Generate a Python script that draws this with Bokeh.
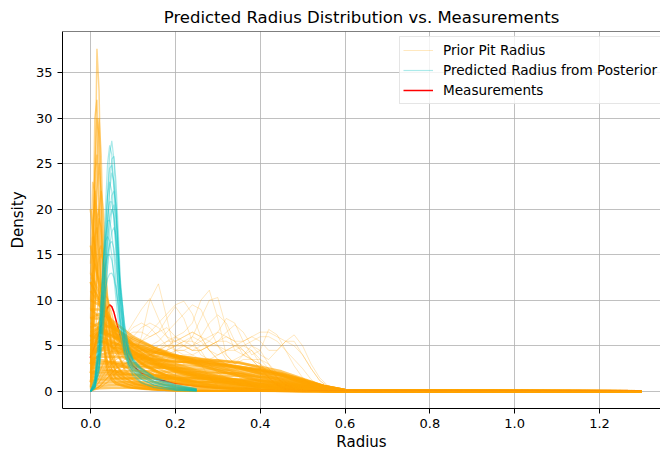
from bokeh.plotting import figure
from bokeh.models import Range1d, FixedTicker, Span, Legend, LegendItem
from bokeh.embed import file_html
from bokeh.resources import INLINE

TITLE = "Predicted Radius Distribution vs. Measurements"
X_LABEL = "Radius"
Y_LABEL = "Density"
X_TICKS = [0.0, 0.2, 0.4, 0.6, 0.8, 1.0, 1.2]
X_TICK_LABELS = ["0.0", "0.2", "0.4", "0.6", "0.8", "1.0", "1.2"]
Y_TICKS = [0, 5, 10, 15, 20, 25, 30, 35]
Y_TICK_LABELS = ["0", "5", "10", "15", "20", "25", "30", "35"]

# ---------------- prior curves: sharp peaks near zero ----------------
GRID_PEAKED = [0, 0.005, 0.01, 0.015, 0.02, 0.025, 0.03, 0.035, 0.04, 0.05, 0.06,
               0.08, 0.1, 0.13, 0.16, 0.2, 0.25, 0.3, 0.4, 0.5, 0.6, 1.3]
PRIOR_PEAKED = [
    [1.0, 6.0, 20.0, 37.6, 33.0, 20.0, 9.0, 4.0, 2.2, 1.2, 0.8, 0.5, 0.35, 0.2, 0.12, 0.06, 0.03, 0.01, 0, 0, 0, 0],
    [3, 14, 30, 32, 22, 12, 6, 3, 2, 1.2, 0.8, 0.5, 0.35, 0.22, 0.14, 0.08, 0.04, 0.02, 0, 0, 0, 0],
    [1, 5, 14, 25, 30, 26, 17, 9, 5, 2.2, 1.3, 0.7, 0.45, 0.25, 0.15, 0.08, 0.04, 0.02, 0, 0, 0, 0],
    [2, 10, 24, 30, 28, 19, 10, 5, 3, 1.5, 1.0, 0.6, 0.4, 0.25, 0.15, 0.08, 0.04, 0.02, 0.01, 0, 0, 0],
    [2, 7, 15, 22, 25, 22, 15, 9, 5.5, 2.5, 1.5, 0.9, 0.6, 0.35, 0.2, 0.1, 0.05, 0.02, 0.01, 0, 0, 0],
    [1, 4, 9, 15, 20, 22, 20, 15, 10, 4, 2, 1, 0.6, 0.35, 0.2, 0.1, 0.05, 0.02, 0, 0, 0, 0],
    [8, 17, 21, 19, 14, 9, 6, 4, 3, 2, 1.4, 0.9, 0.6, 0.4, 0.25, 0.15, 0.08, 0.04, 0.01, 0, 0, 0],
    [4, 9, 15, 19, 20, 17, 12, 8, 5.5, 3, 2, 1.2, 0.8, 0.5, 0.3, 0.18, 0.1, 0.05, 0.01, 0, 0, 0],
    [6, 12, 17, 18, 15, 11, 8, 6, 4.5, 3, 2.2, 1.5, 1.0, 0.6, 0.4, 0.25, 0.12, 0.06, 0.02, 0, 0, 0],
    [2, 5, 9, 13, 15.5, 16, 14, 11, 8.5, 5, 3, 1.6, 1.0, 0.6, 0.35, 0.2, 0.1, 0.05, 0.01, 0, 0, 0],
    [9, 13, 14, 13, 11, 9, 7.5, 6, 5, 3.6, 2.8, 1.8, 1.2, 0.7, 0.45, 0.25, 0.12, 0.06, 0.02, 0, 0, 0],
    [1.5, 3.5, 6, 8.5, 10.5, 11.7, 12, 11.3, 10, 7, 4.8, 2.5, 1.5, 0.8, 0.5, 0.25, 0.12, 0.05, 0.01, 0, 0, 0],
    [0.5, 1.5, 3, 5, 7, 8.8, 10, 10.5, 10.2, 8.5, 6.5, 4, 2.6, 1.5, 0.9, 0.5, 0.25, 0.1, 0.02, 0, 0, 0],
    [14, 23, 22, 16, 10, 7, 5, 4, 3.3, 2.4, 1.8, 1.2, 0.8, 0.5, 0.3, 0.15, 0.07, 0.03, 0.01, 0, 0, 0],
    [10, 18, 22, 20, 16, 12, 9, 6.5, 5, 3.2, 2.3, 1.4, 0.9, 0.55, 0.35, 0.2, 0.1, 0.05, 0.01, 0, 0, 0],
    [3, 8, 13, 17, 19, 18, 14.5, 11, 8, 4.5, 2.8, 1.5, 0.9, 0.5, 0.3, 0.15, 0.08, 0.04, 0.01, 0, 0, 0],
    [13, 17, 16, 13.5, 11, 9, 7.5, 6.2, 5.2, 3.8, 2.9, 1.9, 1.3, 0.8, 0.5, 0.28, 0.14, 0.07, 0.02, 0, 0, 0],
    [3, 6, 9.5, 12.5, 14.5, 15, 14.3, 12.5, 10.5, 7, 4.6, 2.3, 1.3, 0.7, 0.4, 0.2, 0.1, 0.05, 0.01, 0, 0, 0],
    [4, 13, 24, 26, 19, 11, 6, 3.5, 2.4, 1.5, 1.0, 0.6, 0.4, 0.25, 0.15, 0.08, 0.04, 0.02, 0, 0, 0, 0],
    [12.5, 12.3, 11.8, 11, 10, 9, 8, 7.2, 6.4, 5.1, 4.1, 2.8, 2.0, 1.3, 0.9, 0.5, 0.25, 0.12, 0.03, 0, 0, 0],
]

# ---------------- prior curves: decaying from near zero ----------------
PRIOR_DECAY = [
    [13, 12.5, 12, 11.4, 10.8, 10.2, 9.7, 9.2, 8.7, 7.8, 7.0, 5.8, 4.9, 3.9, 3.2, 2.5, 1.8, 1.3, 0.6, 0.2, 0.05, 0],
    [11, 10.7, 10.4, 10, 9.6, 9.2, 8.8, 8.4, 8.0, 7.2, 6.5, 5.4, 4.5, 3.6, 2.9, 2.2, 1.6, 1.1, 0.5, 0.15, 0.03, 0],
    [9, 8.8, 8.6, 8.4, 8.2, 7.9, 7.6, 7.3, 7.0, 6.5, 6.0, 5.1, 4.4, 3.6, 3.0, 2.4, 1.8, 1.3, 0.6, 0.2, 0.04, 0],
    [7.5, 7.4, 7.3, 7.1, 6.9, 6.7, 6.5, 6.3, 6.1, 5.7, 5.3, 4.7, 4.1, 3.4, 2.9, 2.4, 1.9, 1.4, 0.7, 0.25, 0.05, 0],
    [6, 6, 5.9, 5.8, 5.7, 5.6, 5.5, 5.3, 5.2, 4.9, 4.6, 4.1, 3.7, 3.2, 2.8, 2.3, 1.9, 1.5, 0.8, 0.3, 0.06, 0],
    [16, 15, 14, 13, 12, 11, 10.2, 9.4, 8.7, 7.4, 6.3, 4.8, 3.8, 2.8, 2.1, 1.5, 1.0, 0.6, 0.2, 0.05, 0, 0],
    [5, 5.5, 6, 6.3, 6.5, 6.6, 6.6, 6.5, 6.4, 6.1, 5.7, 5.0, 4.3, 3.5, 2.8, 2.1, 1.4, 0.9, 0.3, 0.08, 0.01, 0],
    [3, 4, 5, 5.8, 6.4, 6.8, 7.0, 7.1, 7.1, 6.8, 6.3, 5.3, 4.4, 3.3, 2.5, 1.7, 1.0, 0.55, 0.15, 0.03, 0, 0],
    [0.5, 2, 4, 6, 7.5, 8.3, 8.6, 8.5, 8.2, 7.3, 6.4, 4.9, 3.8, 2.7, 1.9, 1.2, 0.7, 0.35, 0.08, 0.01, 0, 0],
    [1, 2.5, 4.5, 6.5, 7.6, 8.2, 8.4, 8.3, 8.0, 7.4, 6.8, 5.4, 4.3, 3.0, 2.1, 1.3, 0.7, 0.35, 0.07, 0.01, 0, 0],
    [12, 11.5, 11, 10.5, 10, 9.5, 9, 8.5, 8, 7, 6.2, 4.9, 3.9, 2.8, 2.1, 1.4, 0.9, 0.55, 0.2, 0.05, 0.01, 0],
    [20, 18, 16, 14, 12.3, 11, 9.9, 9, 8.2, 6.8, 5.7, 4.2, 3.2, 2.2, 1.6, 1.0, 0.6, 0.35, 0.1, 0.02, 0, 0],
    [4, 4.3, 4.6, 4.8, 5.0, 5.1, 5.2, 5.2, 5.2, 5.0, 4.8, 4.3, 3.9, 3.3, 2.8, 2.2, 1.6, 1.1, 0.45, 0.12, 0.02, 0],
    [2, 3, 4, 4.6, 5, 5.3, 5.5, 5.6, 5.6, 5.4, 5.1, 4.4, 3.7, 2.8, 2.1, 1.4, 0.8, 0.45, 0.1, 0.02, 0, 0],
    [0.3, 1, 2, 3, 3.8, 4.4, 4.8, 5, 5.1, 4.9, 4.5, 3.7, 3.0, 2.2, 1.6, 1.0, 0.55, 0.25, 0.05, 0, 0, 0],
]

# ---------------- prior curves: broad smooth ----------------
GRID_SMOOTH = [0, 0.02, 0.05, 0.1, 0.15, 0.2, 0.25, 0.3, 0.35, 0.4, 0.45, 0.5, 0.55, 0.6, 1.3]
PRIOR_SMOOTH = [
    [6, 6.5, 6, 5.2, 4.5, 3.9, 3.4, 3.0, 2.5, 2.0, 1.4, 0.8, 0.3, 0.08, 0],
    [5, 5.5, 5.3, 4.8, 4.3, 3.8, 3.4, 3.1, 2.7, 2.3, 1.7, 1.0, 0.4, 0.1, 0],
    [4, 4.5, 4.5, 4.2, 3.9, 3.6, 3.3, 3.0, 2.7, 2.4, 1.9, 1.2, 0.5, 0.12, 0],
    [3.5, 3.8, 3.8, 3.7, 3.5, 3.3, 3.1, 2.9, 2.7, 2.4, 2.0, 1.3, 0.6, 0.15, 0],
    [3, 3.2, 3.2, 3.1, 3.0, 2.9, 2.8, 2.7, 2.5, 2.3, 1.9, 1.3, 0.6, 0.15, 0],
    [2.5, 2.7, 2.7, 2.7, 2.6, 2.6, 2.5, 2.4, 2.3, 2.1, 1.8, 1.2, 0.6, 0.15, 0],
    [8, 8, 7, 5.6, 4.6, 3.8, 3.1, 2.5, 1.9, 1.4, 0.9, 0.5, 0.2, 0.05, 0],
    [9, 9, 7.8, 6, 4.8, 3.8, 3.0, 2.3, 1.7, 1.1, 0.7, 0.35, 0.12, 0.03, 0],
    [7, 7.5, 7, 5.8, 4.8, 4.0, 3.3, 2.7, 2.1, 1.6, 1.1, 0.6, 0.25, 0.06, 0],
    [2, 2.2, 2.2, 2.2, 2.2, 2.1, 2.1, 2.0, 2.0, 1.9, 1.6, 1.1, 0.6, 0.15, 0],
    [1.5, 1.7, 1.8, 1.8, 1.8, 1.8, 1.8, 1.7, 1.7, 1.6, 1.4, 1.0, 0.5, 0.12, 0],
    [1, 1.2, 1.3, 1.4, 1.4, 1.4, 1.4, 1.4, 1.3, 1.3, 1.1, 0.8, 0.4, 0.1, 0],
    [10, 9.5, 7.5, 5.2, 3.7, 2.7, 2.0, 1.4, 0.9, 0.55, 0.3, 0.12, 0.04, 0.01, 0],
    [4.5, 5.5, 5.2, 4.0, 3.4, 3.2, 3.3, 3.4, 3.2, 2.6, 1.8, 0.9, 0.3, 0.06, 0],
    [5.5, 6.5, 6.2, 5.0, 4.3, 3.9, 3.6, 3.2, 2.6, 1.9, 1.2, 0.6, 0.2, 0.04, 0],
    [0.8, 0.9, 1.0, 1.0, 1.0, 1.0, 1.0, 1.0, 1.0, 0.95, 0.85, 0.65, 0.35, 0.1, 0],
    [12, 10, 7.5, 4.8, 3.3, 2.4, 1.7, 1.2, 0.8, 0.5, 0.3, 0.15, 0.05, 0.01, 0],
    [3, 4, 4.3, 4.0, 3.6, 3.3, 3.1, 2.9, 2.6, 2.2, 1.7, 1.1, 0.5, 0.12, 0],
    [0.5, 0.6, 0.7, 0.7, 0.7, 0.7, 0.7, 0.7, 0.7, 0.7, 0.62, 0.5, 0.3, 0.08, 0],
    [6.5, 7, 6.5, 5.3, 4.4, 3.6, 2.9, 2.3, 1.7, 1.2, 0.8, 0.4, 0.15, 0.03, 0],
    [2, 2.5, 2.3, 1.8, 1.5, 1.3, 1.1, 1.0, 0.9, 0.8, 0.7, 0.5, 0.25, 0.06, 0],
    [3, 3.5, 3.2, 2.4, 1.8, 1.4, 1.1, 0.8, 0.6, 0.45, 0.3, 0.15, 0.05, 0.01, 0],
    [0.3, 0.35, 0.4, 0.4, 0.4, 0.4, 0.4, 0.4, 0.4, 0.4, 0.38, 0.32, 0.2, 0.05, 0],
    [1.2, 1.4, 1.5, 1.5, 1.5, 1.5, 1.4, 1.3, 1.2, 1.1, 0.9, 0.6, 0.3, 0.07, 0],
    [5, 6, 5.5, 4.3, 3.4, 2.7, 2.1, 1.6, 1.2, 0.85, 0.55, 0.3, 0.1, 0.02, 0],
    [8, 8.5, 7.2, 5.2, 3.9, 3.0, 2.3, 1.7, 1.2, 0.8, 0.5, 0.25, 0.08, 0.02, 0],
    [4, 4.8, 4.8, 4.5, 4.2, 3.9, 3.6, 3.4, 3.1, 2.7, 2.2, 1.4, 0.6, 0.15, 0],
    [2.8, 3, 3, 2.9, 2.7, 2.5, 2.3, 2.1, 1.9, 1.6, 1.3, 0.9, 0.45, 0.1, 0],
    [6, 7, 6.2, 4.4, 3.2, 2.3, 1.6, 1.1, 0.75, 0.5, 0.3, 0.15, 0.05, 0.01, 0],
    [1.8, 2.0, 2.0, 1.9, 1.7, 1.6, 1.5, 1.4, 1.3, 1.2, 1.0, 0.7, 0.35, 0.08, 0],
]

# ---------------- prior curves: bumpy (few-sample KDEs) ----------------
GRID_BUMPY = [0, 0.02, 0.04, 0.06, 0.08, 0.1, 0.12, 0.14, 0.16, 0.18, 0.2, 0.22, 0.24, 0.26,
              0.28, 0.3, 0.32, 0.34, 0.36, 0.38, 0.4, 0.42, 0.44, 0.46, 0.48, 0.5, 0.52,
              0.54, 0.56, 0.6, 1.3]
PRIOR_BUMPY = [
    [0, 0.5, 2, 3, 2.5, 3.5, 6, 10, 11.8, 8, 4, 3, 3.5, 3, 1.5, 0.6, 0.3, 0.2, 0.1, 0, 0, 0, 0, 0, 0, 0, 0, 0, 0, 0, 0],
    [0, 0.3, 1, 2, 3, 3.5, 3, 2.5, 3, 4.5, 6, 6.5, 7.5, 10, 11.1, 8, 4, 3, 4, 4.5, 3, 1.5, 0.6, 0.2, 0.05, 0, 0, 0, 0, 0, 0],
    [0, 0.5, 1.5, 2.5, 3, 3, 2.5, 2, 2.5, 3.5, 4.5, 5, 6, 8, 10, 10.3, 7, 4.5, 4, 5, 4.5, 3, 1.5, 0.6, 0.2, 0.05, 0, 0, 0, 0, 0],
    [0, 1, 3, 4, 4.5, 5, 5.5, 6, 6.5, 8, 9.3, 8, 5.5, 4, 3.5, 3, 2.5, 2, 1.2, 0.6, 0.2, 0.05, 0, 0, 0, 0, 0, 0, 0, 0, 0],
    [0, 2, 4, 5, 6, 7.5, 9, 10.2, 8, 6, 4.5, 4.5, 5, 4.5, 3, 2, 1.5, 1, 0.5, 0.2, 0.05, 0, 0, 0, 0, 0, 0, 0, 0, 0, 0],
    [0, 0.3, 1, 2, 2.5, 3, 3.5, 4, 4.5, 5, 5.5, 6, 6.5, 6, 5.5, 6.5, 8, 7.5, 5.5, 4, 4.5, 6.8, 6.2, 4.5, 2.8, 1.5, 0.6, 0.2, 0.05, 0, 0],
    [0, 0.5, 1.5, 2.5, 3, 3.5, 4, 4, 4.5, 4.5, 5, 5, 4.5, 4.5, 5, 5.5, 6.5, 7.3, 6.5, 5, 4, 3.5, 4.5, 5.5, 6.2, 5, 3, 1.5, 0.6, 0.1, 0],
    [0, 0.5, 1.5, 2.5, 3.5, 4, 4.5, 5, 5.5, 6.5, 7.5, 8.5, 9.5, 9, 7, 5, 3.5, 2.5, 2, 1.5, 1, 0.6, 0.3, 0.1, 0, 0, 0, 0, 0, 0, 0],
    [0, 1, 2.5, 3.5, 4, 4.5, 5.5, 6.5, 7.5, 8.5, 9.5, 9.9, 8.5, 6, 4.5, 4, 4.5, 5, 4.5, 3.5, 2.5, 1.5, 0.8, 0.3, 0.1, 0, 0, 0, 0, 0, 0],
    [0, 0.5, 1.5, 2, 2.5, 3, 3.5, 4, 4.5, 5, 5, 5.5, 5.5, 5, 5, 5.5, 5.5, 5, 5.5, 6, 5.5, 4.5, 4.5, 5.5, 5.5, 4, 2.5, 1.2, 0.5, 0.05, 0],
    [0, 1, 2, 3, 3.5, 3.5, 3, 3.5, 4.5, 5.5, 6, 5.5, 5, 6, 7.5, 8.4, 7.5, 5.5, 4, 3.5, 3.5, 3, 2, 1, 0.4, 0.1, 0, 0, 0, 0, 0],
    [0, 2, 4, 5, 6, 6.5, 6.5, 6, 6.5, 7, 6, 5, 4.5, 5, 5.5, 5, 4, 3, 2.5, 2.5, 2, 1.2, 0.6, 0.2, 0.05, 0, 0, 0, 0, 0, 0],
    [0, 1.5, 3, 4, 5, 6, 7, 7.5, 7, 6, 5.5, 6, 6.5, 6, 4.5, 3.5, 3, 3.5, 4, 3.5, 2.5, 1.5, 0.7, 0.3, 0.1, 0, 0, 0, 0, 0, 0],
    [0, 0.5, 1, 1.5, 2, 2.5, 3, 3.5, 4, 4.5, 5, 5, 5, 5.5, 6, 6.5, 6, 5.5, 5.5, 6, 6.5, 6.5, 6, 5.5, 5, 4, 2.5, 1.2, 0.5, 0.05, 0],
    [0, 1, 2.5, 3.5, 4, 4.5, 4.5, 4.5, 5, 5.5, 5.5, 5, 4.5, 4.5, 5, 5.5, 6, 5.5, 4.5, 3.5, 3, 2.5, 1.5, 0.7, 0.3, 0.1, 0, 0, 0, 0, 0],
    [0, 2, 4.5, 6, 6, 5.5, 5, 4.5, 4, 4, 4.5, 4.5, 4, 3.5, 3.5, 4, 4.5, 5, 5, 4.5, 3.5, 2.5, 1.5, 0.7, 0.3, 0.1, 0, 0, 0, 0, 0],
    [0, 0.5, 1.5, 2.5, 3, 3.5, 4, 4.5, 5, 5, 4.5, 4, 4, 4.5, 5, 5, 4.5, 4.5, 5, 5.5, 6, 6, 5.5, 4.5, 3.5, 2.5, 1.3, 0.6, 0.2, 0, 0],
    [0, 1.5, 3.5, 5, 6, 7, 7.5, 7, 6, 5, 5, 5.5, 6, 5.5, 4.5, 3.5, 3, 3, 3.5, 3.5, 3, 2, 1, 0.4, 0.1, 0, 0, 0, 0, 0, 0],
]

# ---------------- posterior predictive curves ----------------
GRID_POST = [0, 0.01, 0.02, 0.03, 0.035, 0.04, 0.045, 0.05, 0.055, 0.06, 0.065, 0.07,
             0.08, 0.09, 0.1, 0.12, 0.15, 0.2, 0.25]
POSTERIOR = [
    [0, 0.5, 3, 10, 15.5, 21.5, 26, 27.5, 25.5, 21, 15.5, 10.5, 5.5, 3.0, 1.9, 1.0, 0.45, 0.12, 0.03],
    [0, 0.8, 4.5, 14, 20, 25, 27, 26, 22, 16.5, 11.5, 7.8, 4.2, 2.6, 1.7, 0.9, 0.4, 0.1, 0.03],
    [0, 0.4, 2.5, 8.5, 13, 18, 22.5, 25.5, 25.8, 23, 18, 12.5, 7.0, 4.5, 3.4, 2.3, 1.4, 0.6, 0.2],
    [0, 0.6, 4, 12, 17, 21.5, 24.5, 24.8, 23, 19.5, 14.5, 10, 5.2, 3.3, 2.4, 1.4, 0.7, 0.2, 0.06],
    [0, 0.5, 3, 10, 14, 18.5, 22, 24, 23, 20, 15.5, 11, 6.3, 4.2, 3.2, 2.1, 1.3, 0.55, 0.2],
    [0, 1, 5, 14, 18.5, 21.5, 23, 22, 19, 15, 11, 7.8, 4.5, 3.0, 2.2, 1.3, 0.65, 0.2, 0.06],
    [0, 0.4, 2.5, 8, 12, 16, 19.5, 21.5, 22, 20.5, 16.5, 12, 7.2, 4.6, 3.5, 2.5, 1.6, 0.75, 0.3],
    [0, 0.8, 4.5, 12, 16, 19, 20.8, 20.8, 19, 16, 12.5, 9.2, 5.3, 3.5, 2.6, 1.6, 0.9, 0.3, 0.1],
    [0, 0.6, 3.5, 10, 13.5, 16.5, 19, 20, 19.3, 17, 13.5, 10, 6.3, 4.3, 3.3, 2.2, 1.3, 0.5, 0.18],
    [0, 1.2, 6, 14, 17, 18.7, 18.8, 17.5, 15, 12, 9.3, 7, 4.5, 3.2, 2.5, 1.6, 0.9, 0.35, 0.12],
    [0, 0.4, 2.5, 7.5, 10.5, 13.5, 16, 17.5, 18, 17, 14.5, 11.5, 7.5, 4.9, 3.6, 2.5, 1.5, 0.65, 0.25],
    [0, 0.8, 4.5, 10.5, 13, 15, 16.2, 16.5, 15.7, 13.8, 11.5, 9, 5.8, 4.0, 3.0, 1.9, 1.1, 0.4, 0.14],
    [0, 1.3, 6, 12, 14, 14.9, 15, 14.4, 13, 11.2, 9.2, 7.3, 5.0, 3.6, 2.8, 1.8, 1.1, 0.45, 0.16],
    [0, 0.9, 4.5, 9.5, 11.2, 12.4, 12.9, 13, 12.5, 11.4, 9.8, 8, 5.8, 4.3, 3.4, 2.4, 1.5, 0.7, 0.28],
    [0, 0.3, 2, 6.5, 10, 14, 17.5, 19.8, 20.5, 19, 15.5, 11.5, 6.4, 3.9, 2.8, 1.8, 1.0, 0.35, 0.12],
    [0, 1.5, 7, 14.5, 16.5, 17, 16.5, 15, 12.5, 10, 7.8, 6, 4.0, 2.9, 2.2, 1.3, 0.7, 0.22, 0.07],
]

# ---------------- measurements KDE ----------------
MEAS_X = [-0.001, 0.01, 0.02, 0.03, 0.04, 0.045, 0.05, 0.055, 0.06, 0.07, 0.08, 0.1, 0.12,
          0.15, 0.2, 0.25, 0.3, 0.4, 0.5, 0.6, 0.7, 0.8, 0.9, 1.0, 1.1, 1.2, 1.3]
MEAS_Y = [3.7, 5.0, 6.5, 8.0, 9.2, 9.5, 9.3, 8.7, 7.8, 6.0, 4.6, 2.8, 2.0, 1.4, 0.9, 0.6,
          0.4, 0.2, 0.12, 0.08, 0.06, 0.05, 0.05, 0.05, 0.05, 0.05, 0.05]

for grid, fam in [(GRID_PEAKED, PRIOR_PEAKED), (GRID_PEAKED, PRIOR_DECAY),
                  (GRID_SMOOTH, PRIOR_SMOOTH), (GRID_BUMPY, PRIOR_BUMPY),
                  (GRID_POST, POSTERIOR)]:
    for i, c in enumerate(fam):
        assert len(c) == len(grid), (len(grid), len(c), i, c)
assert len(MEAS_X) == len(MEAS_Y)

FONT = "DejaVu Sans"
ORANGE = "#FFA500"
CYAN = "#00BFBF"

p = figure(width=660, height=453, output_backend="svg", toolbar_location=None,
           x_range=Range1d(-0.0662, 1.3438), y_range=Range1d(-1.88, 39.5),
           min_border_left=62, min_border_right=0, min_border_top=31, min_border_bottom=45,
           background_fill_color="white", border_fill_color="white")

p.title.text = TITLE
p.title.text_font = FONT
p.title.text_font_size = "16.5px"
p.title.text_font_style = "normal"
p.title.align = "center"
p.title.text_color = "black"

r_meas = p.line(MEAS_X, MEAS_Y, line_color="red", line_width=1.5)

r_smooth = p.multi_line([GRID_SMOOTH] * len(PRIOR_SMOOTH), PRIOR_SMOOTH,
                        line_color=ORANGE, line_alpha=0.6, line_width=2.5)
r_decay = p.multi_line([GRID_PEAKED] * len(PRIOR_DECAY), PRIOR_DECAY,
                       line_color=ORANGE, line_alpha=0.55, line_width=2.2)
r_peak = p.multi_line([GRID_PEAKED] * len(PRIOR_PEAKED), PRIOR_PEAKED,
                      line_color=ORANGE, line_alpha=0.45, line_width=1.5)
r_bumpy = p.multi_line([GRID_BUMPY] * len(PRIOR_BUMPY), PRIOR_BUMPY,
                       line_color=ORANGE, line_alpha=0.25, line_width=1.0)
r_post = p.multi_line([GRID_POST] * len(POSTERIOR), POSTERIOR,
                      line_color=CYAN, line_alpha=0.33, line_width=1.2)

# axes
p.xaxis.ticker = FixedTicker(ticks=X_TICKS)
p.xaxis.major_label_overrides = {t: l for t, l in zip(X_TICKS, X_TICK_LABELS)}
p.yaxis.ticker = FixedTicker(ticks=Y_TICKS)
p.yaxis.major_label_overrides = {t: l for t, l in zip(Y_TICKS, Y_TICK_LABELS)}
p.xaxis.axis_label = X_LABEL
p.yaxis.axis_label = Y_LABEL
for ax in (p.xaxis, p.yaxis):
    ax.axis_label_text_font = FONT
    ax.axis_label_text_font_size = "15px"
    ax.axis_label_text_font_style = "normal"
    ax.axis_label_text_color = "black"
    ax.major_label_text_font = FONT
    ax.major_label_text_font_size = "13px"
    ax.major_label_text_color = "black"
    ax.axis_line_color = "black"
    ax.major_tick_line_color = "black"
    ax.major_tick_out = 5
    ax.major_tick_in = 0
    ax.minor_tick_line_color = None
    ax.major_label_standoff = 5
p.xaxis.axis_label_standoff = 2
p.yaxis.axis_label_standoff = 6

p.grid.grid_line_color = "#b0b0b0"
p.grid.grid_line_width = 0.8
p.outline_line_color = None
p.add_layout(Span(location=39.5, dimension="width", line_color="black", line_width=1))

legend = Legend(items=[
    LegendItem(label="Prior Pit Radius", renderers=[r_bumpy]),
    LegendItem(label="Predicted Radius from Posterior", renderers=[r_post]),
    LegendItem(label="Measurements", renderers=[r_meas]),
], location=(337, 304))
legend.margin = 0
legend.padding = 3
legend.spacing = 0
legend.glyph_width = 30
legend.glyph_height = 20
legend.label_height = 20
legend.label_standoff = 10
legend.label_text_font = FONT
legend.label_text_font_size = "13.6px"
legend.label_text_color = "black"
legend.border_line_color = "#cccccc"
legend.border_line_width = 1
legend.background_fill_alpha = 0.8
p.add_layout(legend)

open("out.html", "w").write(file_html(p, INLINE))
